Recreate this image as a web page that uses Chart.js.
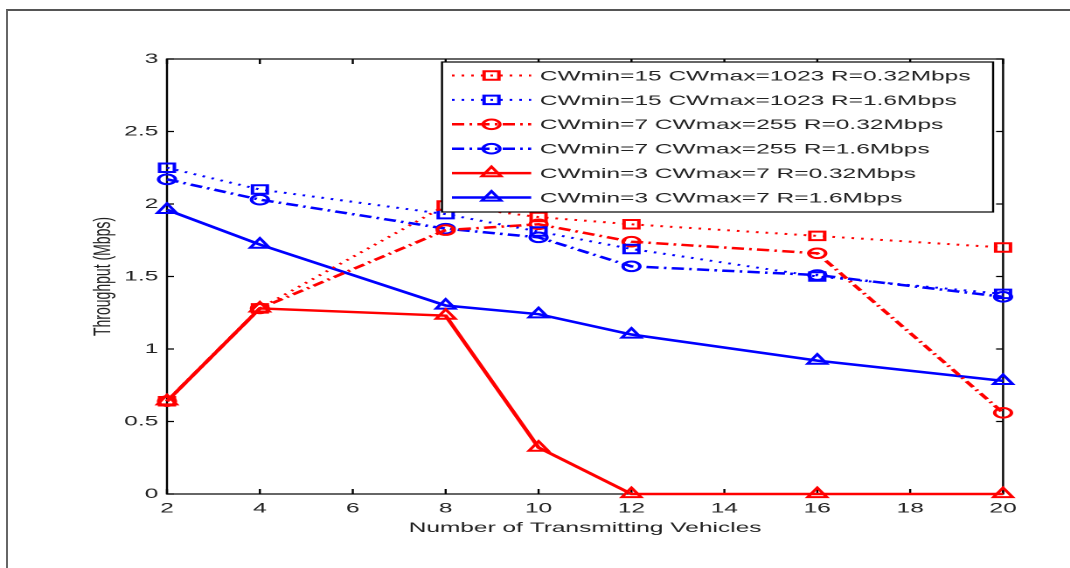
<!DOCTYPE html>
<html>
<head>
<meta charset="utf-8">
<script src="https://cdn.jsdelivr.net/npm/chart.js@4/dist/chart.umd.min.js"></script>
<style>
  html, body { margin: 0; padding: 0; background: #fff; overflow: hidden; }
  #frame { position: absolute; left: 6px; top: 9px; width: 1100px; height: 600px;
           border-top: 2px solid #555; border-left: 2px solid #666; }
  /* the original figure is stretched sideways, so the canvas is too */
  #wrap { position: absolute; left: 0; top: 0; transform: scaleX(1.7484); transform-origin: 0 0; }
</style>
</head>
<body>
<div id="frame"></div>
<div id="wrap"><canvas id="c" width="612" height="568" style="width:612px;height:568px"></canvas></div>
<script>
// data
const vehicles = [2, 4, 8, 10, 12, 16, 20];
const cw15Slow = [0.64, 1.28, 1.99, 1.91, 1.86, 1.78, 1.70];
const cw15Fast = [2.25, 2.10, 1.93, 1.81, 1.69, 1.50, 1.38];
const cw7Slow = [0.64, 1.28, 1.82, 1.86, 1.74, 1.66, 0.56];
const cw7Fast = [2.17, 2.03, 1.83, 1.77, 1.57, 1.51, 1.36];
const cw3Slow = [0.64, 1.28, 1.23, 0.32, 0, 0, 0];
const cw3Fast = [1.96, 1.72, 1.30, 1.24, 1.10, 0.92, 0.78];
const labels = [
  "CWmin=15 CWmax=1023 R=0.32Mbps",
  "CWmin=15 CWmax=1023 R=1.6Mbps",
  "CWmin=7 CWmax=255 R=0.32Mbps",
  "CWmin=7 CWmax=255 R=1.6Mbps",
  "CWmin=3 CWmax=7 R=0.32Mbps",
  "CWmin=3 CWmax=7 R=1.6Mbps",
];

const RED = "#ff0000";
const BLUE = "#0000ff";
const FONT = "'Liberation Sans', Arial, sans-serif";

const toPoints = (ys) => vehicles.map((x, i) => ({ x: x, y: ys[i] }));

const series = (label, ys, color, dash, width, style, radius) => ({
  label: label,
  data: toPoints(ys),
  borderColor: color,
  borderWidth: width,
  borderDash: dash,
  pointStyle: style,
  pointRadius: radius,
  pointHoverRadius: radius,
  pointBorderWidth: 2,
  pointBorderColor: color,
  pointBackgroundColor: "rgba(0,0,0,0)",
  fill: false,
  tension: 0,
  clip: false,
});

const DOT = [1.5, 4];
const DASHDOT = [7, 3, 1.5, 3];

const datasets = [
  series(labels[0], cw15Slow, RED, DOT, 2, "rect", 6),
  series(labels[1], cw15Fast, BLUE, DOT, 2, "rect", 6),
  series(labels[2], cw7Slow, RED, DASHDOT, 2.5, "circle", 4.8),
  series(labels[3], cw7Fast, BLUE, DASHDOT, 2.5, "circle", 4.8),
  series(labels[4], cw3Slow, RED, [], 2.5, "triangle", 6.3),
  series(labels[5], cw3Fast, BLUE, [], 2.5, "triangle", 6.3),
];

// marker drawn the same way Chart.js does it
const marker = (ctx, style, r, x, y) => {
  ctx.beginPath();
  if (style === "rect") {
    const s = r * Math.SQRT1_2;
    ctx.rect(x - s, y - s, 2 * s, 2 * s);
  } else if (style === "circle") {
    ctx.arc(x, y, r, 0, Math.PI * 2);
  } else {
    for (let k = 0; k < 3; k++) {
      const a = k * 2 * Math.PI / 3;
      const px = x + Math.sin(a) * r, py = y - Math.cos(a) * r;
      if (k === 0) ctx.moveTo(px, py); else ctx.lineTo(px, py);
    }
    ctx.closePath();
  }
  ctx.stroke();
};

// matlab style box with inward ticks, plus the legend
const boxPlugin = {
  id: "box",
  beforeDatasetsDraw(chart) {
    const { ctx, chartArea: a, scales } = chart;
    ctx.save();
    ctx.strokeStyle = "#000";
    ctx.lineWidth = 1.2;
    ctx.strokeRect(a.left, a.top, a.right - a.left, a.bottom - a.top);
    ctx.beginPath();
    scales.x.ticks.forEach((t) => {
      const px = scales.x.getPixelForValue(t.value);
      ctx.moveTo(px, a.bottom); ctx.lineTo(px, a.bottom - 5);
      ctx.moveTo(px, a.top); ctx.lineTo(px, a.top + 5);
    });
    scales.y.ticks.forEach((t) => {
      const py = scales.y.getPixelForValue(t.value);
      ctx.moveTo(a.left, py); ctx.lineTo(a.left + 4, py);
      ctx.moveTo(a.right, py); ctx.lineTo(a.right - 4, py);
    });
    ctx.stroke();
    ctx.restore();
  },
  afterDatasetsDraw(chart) {
    const { ctx, chartArea: a } = chart;
    const right = a.right - 5.7, left = right - 315.2;
    const top = a.top + 3, h = 150;
    ctx.save();
    ctx.fillStyle = "#fff";
    ctx.fillRect(left, top, right - left, h);
    ctx.strokeStyle = "#000";
    ctx.lineWidth = 1.2;
    ctx.strokeRect(left, top, right - left, h);
    chart.data.datasets.forEach((ds, i) => {
      const y = top + 13.5 + i * 24.4;
      ctx.strokeStyle = ds.borderColor;
      ctx.lineWidth = ds.borderWidth;
      ctx.setLineDash(ds.borderDash);
      ctx.beginPath();
      ctx.moveTo(left + 5.7, y);
      ctx.lineTo(left + 51, y);
      ctx.stroke();
      ctx.setLineDash([]);
      ctx.lineWidth = 2;
      marker(ctx, ds.pointStyle, ds.pointRadius, left + 28.3, y);
      ctx.fillStyle = "#222";
      ctx.font = "14px " + FONT;
      ctx.textBaseline = "middle";
      ctx.fillText(ds.label, left + 56, y + 1);
    });
    ctx.restore();
  },
};

new Chart(document.getElementById("c"), {
  type: "line",
  data: { datasets: datasets },
  plugins: [boxPlugin],
  options: {
    responsive: false,
    animation: false,
    devicePixelRatio: 2,
    layout: { padding: { top: 59, right: 38.3, bottom: 0, left: 0 } },
    plugins: { legend: { display: false }, tooltip: { enabled: false } },
    scales: {
      x: {
        type: "linear",
        min: 2,
        max: 20,
        ticks: { stepSize: 2, padding: 6, color: "#222", font: { family: FONT, size: 14 }, maxRotation: 0 },
        grid: { display: false, drawTicks: false },
        border: { display: false },
        title: { display: true, text: "Number of Transmitting Vehicles", color: "#222",
                 font: { family: FONT, size: 14 }, padding: { top: 0, bottom: 31.5 } },
        afterFit: (s) => { s.height = 74; },
      },
      y: {
        min: 0,
        max: 3,
        ticks: { stepSize: 0.5, padding: 5, color: "#222", font: { family: FONT, size: 14 },
                 callback: (v) => String(v) },
        grid: { display: false, drawTicks: false },
        border: { display: false },
        title: { display: true, text: "Throughput (Mbps)", color: "#222",
                 font: { family: FONT, size: 14 }, padding: { top: 50.5, bottom: 0 } },
        afterFit: (s) => { s.width = 95.5; },
      },
    },
  },
});
</script>
</body>
</html>
